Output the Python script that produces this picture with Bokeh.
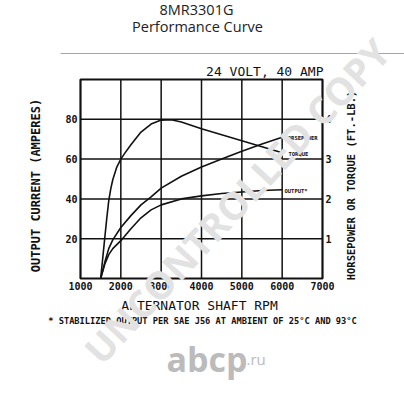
import math
from bokeh.plotting import figure
from bokeh.models import Range1d, LinearAxis, FixedTicker, Label
from bokeh.embed import file_html
from bokeh.resources import INLINE

# ---- data ----
rpm_limits = [1000, 7000]
amp_limits = [0, 100]
hp_limits = [0, 5]
x_ticks = [1000, 2000, 3000, 4000, 5000, 6000, 7000]
amp_ticks = [20, 40, 60, 80]
hp_ticks = [1, 2, 3, 4]

torque_rpm = [1500, 1550, 1600, 1650, 1700, 1750, 1800, 1900, 2000, 2100, 2250, 2500, 2750, 3000, 3250, 3500, 4000, 4500, 5000, 5500, 6000]
torque_ftlb = [0.0, 0.5, 1.0, 1.5, 1.95, 2.25, 2.48, 2.8, 3.0, 3.15, 3.36, 3.68, 3.88, 3.98, 3.99, 3.93, 3.76, 3.61, 3.46, 3.31, 3.16]

hp_rpm = [1500, 1600, 1700, 1800, 2000, 2250, 2500, 2750, 3000, 3500, 4000, 4500, 5000, 5500, 6000]
hp_values = [0.0, 0.4, 0.75, 0.97, 1.28, 1.58, 1.85, 2.05, 2.27, 2.57, 2.8, 3.0, 3.2, 3.38, 3.55]

out_rpm = [1500, 1600, 1700, 1800, 2000, 2250, 2500, 2750, 3000, 3500, 4000, 4500, 5000, 5500, 6000]
out_amps = [0, 7, 12, 15, 19, 25, 30.5, 34.5, 37, 40, 41.5, 42.7, 43.5, 44.2, 44.6]

# ---- layout: the frame fills the canvas; the chart box sits inside it ----
W, H = 404, 400
BOX_L, BOX_R, BOX_T, BOX_B = 80, 322, 79, 278   # canvas pixels of the chart box
sx = (rpm_limits[1] - rpm_limits[0]) / (BOX_R - BOX_L)
sy = (amp_limits[1] - amp_limits[0]) / (BOX_B - BOX_T)
x_rng = Range1d(rpm_limits[0] - BOX_L * sx, rpm_limits[1] + (W - BOX_R) * sx)
y_rng = Range1d(amp_limits[0] - (H - BOX_B) * sy, amp_limits[1] + BOX_T * sy)
k = (hp_limits[1] - hp_limits[0]) / (amp_limits[1] - amp_limits[0])

def px_x(px):
    return x_rng.start + px * sx

def px_y(py):
    return y_rng.end - py * sy

p = figure(width=W, height=H, x_range=x_rng, y_range=y_rng,
           output_backend="svg", toolbar_location=None, title=None,
           min_border=0, min_border_left=0, min_border_right=0,
           min_border_top=0, min_border_bottom=0)
p.extra_y_ranges = {"right": Range1d(y_rng.start * k, y_rng.end * k)}
p.background_fill_color = "white"
p.border_fill_color = "white"
p.outline_line_color = None
p.xgrid.visible = False
p.ygrid.visible = False

MONO = "DejaVu Sans Mono"
INK = "#111111"

def style_axis(ax, size="10px"):
    ax.axis_line_color = None
    ax.major_tick_line_color = None
    ax.minor_tick_line_color = None
    ax.major_tick_out = 0
    ax.major_tick_in = 0
    ax.major_label_text_font = MONO
    ax.major_label_text_font_style = "bold"
    ax.major_label_text_font_size = size
    ax.major_label_text_color = INK
    ax.major_label_standoff = 3

xa = p.xaxis[0]
xa.ticker = FixedTicker(ticks=x_ticks)
xa.fixed_location = amp_limits[0]
style_axis(xa)
ya = p.yaxis[0]
ya.ticker = FixedTicker(ticks=amp_ticks)
ya.fixed_location = rpm_limits[0]
style_axis(ya)
rax = LinearAxis(y_range_name="right", ticker=FixedTicker(ticks=hp_ticks))
rax.fixed_location = rpm_limits[1]
style_axis(rax)
p.add_layout(rax, "right")

# grid lines at the tick values, spanning the chart box
inner_x = x_ticks[1:-1]
p.segment(x0=inner_x, y0=[amp_limits[0]] * len(inner_x), x1=inner_x, y1=[amp_limits[1]] * len(inner_x),
          line_color=INK, line_width=1.5)
p.segment(x0=[rpm_limits[0]] * len(amp_ticks), y0=amp_ticks, x1=[rpm_limits[1]] * len(amp_ticks), y1=amp_ticks,
          line_color=INK, line_width=1.5)
p.quad(left=rpm_limits[0], right=rpm_limits[1], bottom=amp_limits[0], top=amp_limits[1],
       fill_color=None, line_color=INK, line_width=2.2)

p.line(torque_rpm, torque_ftlb, y_range_name="right", line_color=INK, line_width=1.6)
p.line(hp_rpm, hp_values, y_range_name="right", line_color=INK, line_width=1.6)
p.line(out_rpm, out_amps, line_color=INK, line_width=1.6)

# page rule under the header
p.segment(x0=[px_x(60)], y0=[px_y(53)], x1=[px_x(404)], y1=[px_y(53)],
          line_color="#a5a5a5", line_width=1)

# annotations placed in canvas pixels
def lab(text, x, y, size, font=MONO, style="bold", align="center", baseline="middle",
        color=INK, angle=0.0):
    p.add_layout(Label(x=x, y=y, x_units="canvas", y_units="canvas", text=text,
                       text_font=font, text_font_style=style,
                       text_font_size=size, text_align=align, text_baseline=baseline,
                       text_color=color, angle=angle))

# page header
lab("8MR3301G", 196, 9, "14.5px", font="Open Sans", style="normal", color="#222222")
lab("Performance Curve", 197, 26, "14.5px", font="Open Sans", style="normal", color="#222222")

lab("24 VOLT, 40 AMP", 323, 71, "13px", style="normal", align="right")
lab("OUTPUT CURRENT (AMPERES)", 35, 185, "12px", angle=math.pi / 2)
lab("HORSEPOWER OR TORQUE (FT.-LB.)", 350, 185, "10.5px", angle=math.pi / 2)
lab("ALTERNATOR SHAFT RPM", 199, 305, "13px", style="normal")
lab("* STABILIZED OUTPUT PER SAE J56 AT AMBIENT OF 25\u00b0C AND 93\u00b0C", 202, 320, "8.7px")

# curve labels
lab("HORSEPOWER", 284, 137, "5.5px", align="left")
lab("TORQUE", 288, 153, "5.5px", align="left")
lab("OUTPUT*", 284, 190, "5.5px", align="left")

# watermark and logo
lab("UNCONTROLLED COPY", 236, 200, "38px", font="Open Sans", color="#e2e2e2",
    angle=math.radians(47))
lab("abcp", 166, 358, "34px", font="Open Sans", color="#bbbbbb", align="left", baseline="alphabetic")
lab(".ru", 246, 358, "15px", font="Open Sans", style="normal", color="#bbbbbb", align="left",
    baseline="alphabetic")

open("out.html", "w").write(file_html(p, INLINE))
